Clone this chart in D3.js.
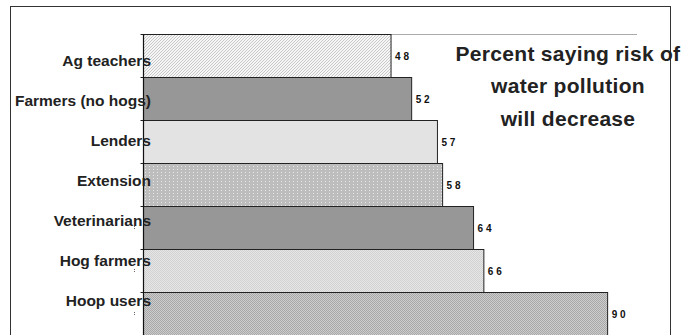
<!DOCTYPE html>
<html>
<head>
<meta charset="utf-8">
<script src="https://cdn.jsdelivr.net/npm/d3@7"></script>
<style>
  html, body { margin: 0; padding: 0; background: #fff; }
  svg { display: block; }
</style>
</head>
<body>
<svg id="chart" width="697" height="335"></svg>
<script>
// Groups surveyed, top to bottom
const categories = [
  "Ag teachers",
  "Farmers (no hogs)",
  "Lenders",
  "Extension",
  "Veterinarians",
  "Hog farmers",
  "Hoop users"
];
// Percent saying risk of water pollution will decrease
const values = [48, 52, 57, 58, 64, 66, 90];
// Chart heading, one entry per line
const titleLines = ["Percent saying risk of", "water pollution", "will decrease"];
// Fill used by each bar, in the same order as categories
const barFills = ["hatch", "solidDark", "solidLight", "dots", "solidDark", "checkLight", "checkMid"];

const svg = d3.select("#chart");
const W = 697, H = 335;

// ---- fill patterns ----
const defs = svg.append("defs");

const hatch = defs.append("pattern").attr("id", "hatch")
  .attr("width", 3).attr("height", 3).attr("patternUnits", "userSpaceOnUse");
hatch.append("rect").attr("width", 3).attr("height", 3).attr("fill", "#f6f6f6");
hatch.append("path").attr("d", "M0,3 L3,0 M-1,1 L1,-1 M2,4 L4,2")
  .attr("stroke", "#b4b4b4").attr("stroke-width", 0.7);

const dots = defs.append("pattern").attr("id", "dots")
  .attr("width", 4).attr("height", 3).attr("patternUnits", "userSpaceOnUse");
dots.append("rect").attr("width", 4).attr("height", 3).attr("fill", "#bdbdbd");
dots.append("rect").attr("x", 1).attr("y", 1).attr("width", 1).attr("height", 1).attr("fill", "#e8e8e8");

const checkLight = defs.append("pattern").attr("id", "checkLight")
  .attr("width", 2).attr("height", 2).attr("patternUnits", "userSpaceOnUse");
checkLight.append("rect").attr("width", 2).attr("height", 2).attr("fill", "#e6e6e6");
checkLight.append("rect").attr("width", 1).attr("height", 1).attr("fill", "#d2d2d2");
checkLight.append("rect").attr("x", 1).attr("y", 1).attr("width", 1).attr("height", 1).attr("fill", "#d2d2d2");

const checkMid = defs.append("pattern").attr("id", "checkMid")
  .attr("width", 2).attr("height", 2).attr("patternUnits", "userSpaceOnUse");
checkMid.append("rect").attr("width", 2).attr("height", 2).attr("fill", "#cdcdcd");
checkMid.append("rect").attr("width", 1).attr("height", 1).attr("fill", "#a8a8a8");
checkMid.append("rect").attr("x", 1).attr("y", 1).attr("width", 1).attr("height", 1).attr("fill", "#a8a8a8");

const fillFor = {
  hatch: "url(#hatch)",
  dots: "url(#dots)",
  checkLight: "url(#checkLight)",
  checkMid: "url(#checkMid)",
  solidDark: "#979797",
  solidLight: "#e3e3e3"
};

// ---- outer frame ----
svg.append("rect")
  .attr("x", 10.5).attr("y", 6.5)
  .attr("width", 660).attr("height", H + 20)
  .attr("fill", "none").attr("stroke", "#333").attr("stroke-width", 1);

// ---- scales ----
const x = d3.scaleLinear().domain([0, 100]).range([143.5, 659.2]);
const y = d3.scaleBand().domain(categories).range([34.5, 335.5]).padding(0);
// Category labels sit on their own, slightly tighter spacing
const yLabel = d3.scalePoint().domain(categories).range([66, 306]);

// top reference line
svg.append("line")
  .attr("x1", x(0)).attr("x2", 637)
  .attr("y1", y.range()[0]).attr("y2", y.range()[0])
  .attr("stroke", "#aaa").attr("stroke-width", 1);

// ---- bars ----
svg.append("g").selectAll("rect")
  .data(categories)
  .join("rect")
  .attr("x", x(0))
  .attr("y", d => y(d))
  .attr("width", (d, i) => x(values[i]) - x(0))
  .attr("height", y.bandwidth())
  .attr("fill", (d, i) => fillFor[barFills[i]])
  .attr("stroke", "#222")
  .attr("stroke-width", 1);

// ---- vertical axis with short ticks at band edges ----
const edges = categories.map(d => y(d)).concat([y.range()[1]]);
svg.append("g").selectAll("line")
  .data(edges)
  .join("line")
  .attr("x1", x(0) - 3).attr("x2", x(0))
  .attr("y1", d => d).attr("y2", d => d)
  .attr("stroke", "#222").attr("stroke-width", 1);
svg.append("line")
  .attr("x1", x(0)).attr("x2", x(0))
  .attr("y1", y.range()[0]).attr("y2", H)
  .attr("stroke", "#111").attr("stroke-width", 1.2);

// faint dotted marks beside the lower bands
svg.append("g").selectAll("line")
  .data(categories.slice(4))
  .join("line")
  .attr("x1", 134.5).attr("x2", 134.5)
  .attr("y1", d => y(d) + y.bandwidth() / 2 - 2)
  .attr("y2", d => y(d) + y.bandwidth() / 2 + 2)
  .attr("stroke", "#666").attr("stroke-width", 1)
  .attr("stroke-dasharray", "1,1");

// ---- category labels ----
svg.append("g").selectAll("text")
  .data(categories)
  .join("text")
  .attr("x", 151)
  .attr("y", d => yLabel(d))
  .attr("text-anchor", "end")
  .attr("font-family", "'Liberation Sans', Arial, Helvetica, sans-serif")
  .attr("font-weight", "bold")
  .attr("font-size", 15.5)
  .attr("fill", "#222")
  .text(d => d);

// ---- value labels ----
svg.append("g").selectAll("text")
  .data(categories)
  .join("text")
  .attr("x", (d, i) => x(values[i]) + 4)
  .attr("y", d => y(d) + y.bandwidth() / 2)
  .attr("dy", "0.35em")
  .attr("font-family", "'Liberation Sans', Arial, Helvetica, sans-serif")
  .attr("font-weight", "bold")
  .attr("font-size", 10)
  .attr("letter-spacing", 2.8)
  .attr("fill", "#111")
  .text((d, i) => values[i]);

// ---- heading ----
svg.append("g").selectAll("text")
  .data(titleLines)
  .join("text")
  .attr("x", 568)
  .attr("y", (d, i) => 60.5 + i * 32.6)
  .attr("text-anchor", "middle")
  .attr("font-family", "'Liberation Sans', Arial, Helvetica, sans-serif")
  .attr("font-weight", "bold")
  .attr("font-size", 21)
  .attr("letter-spacing", 0.3)
  .attr("fill", "#222")
  .text(d => d);
</script>
</body>
</html>
